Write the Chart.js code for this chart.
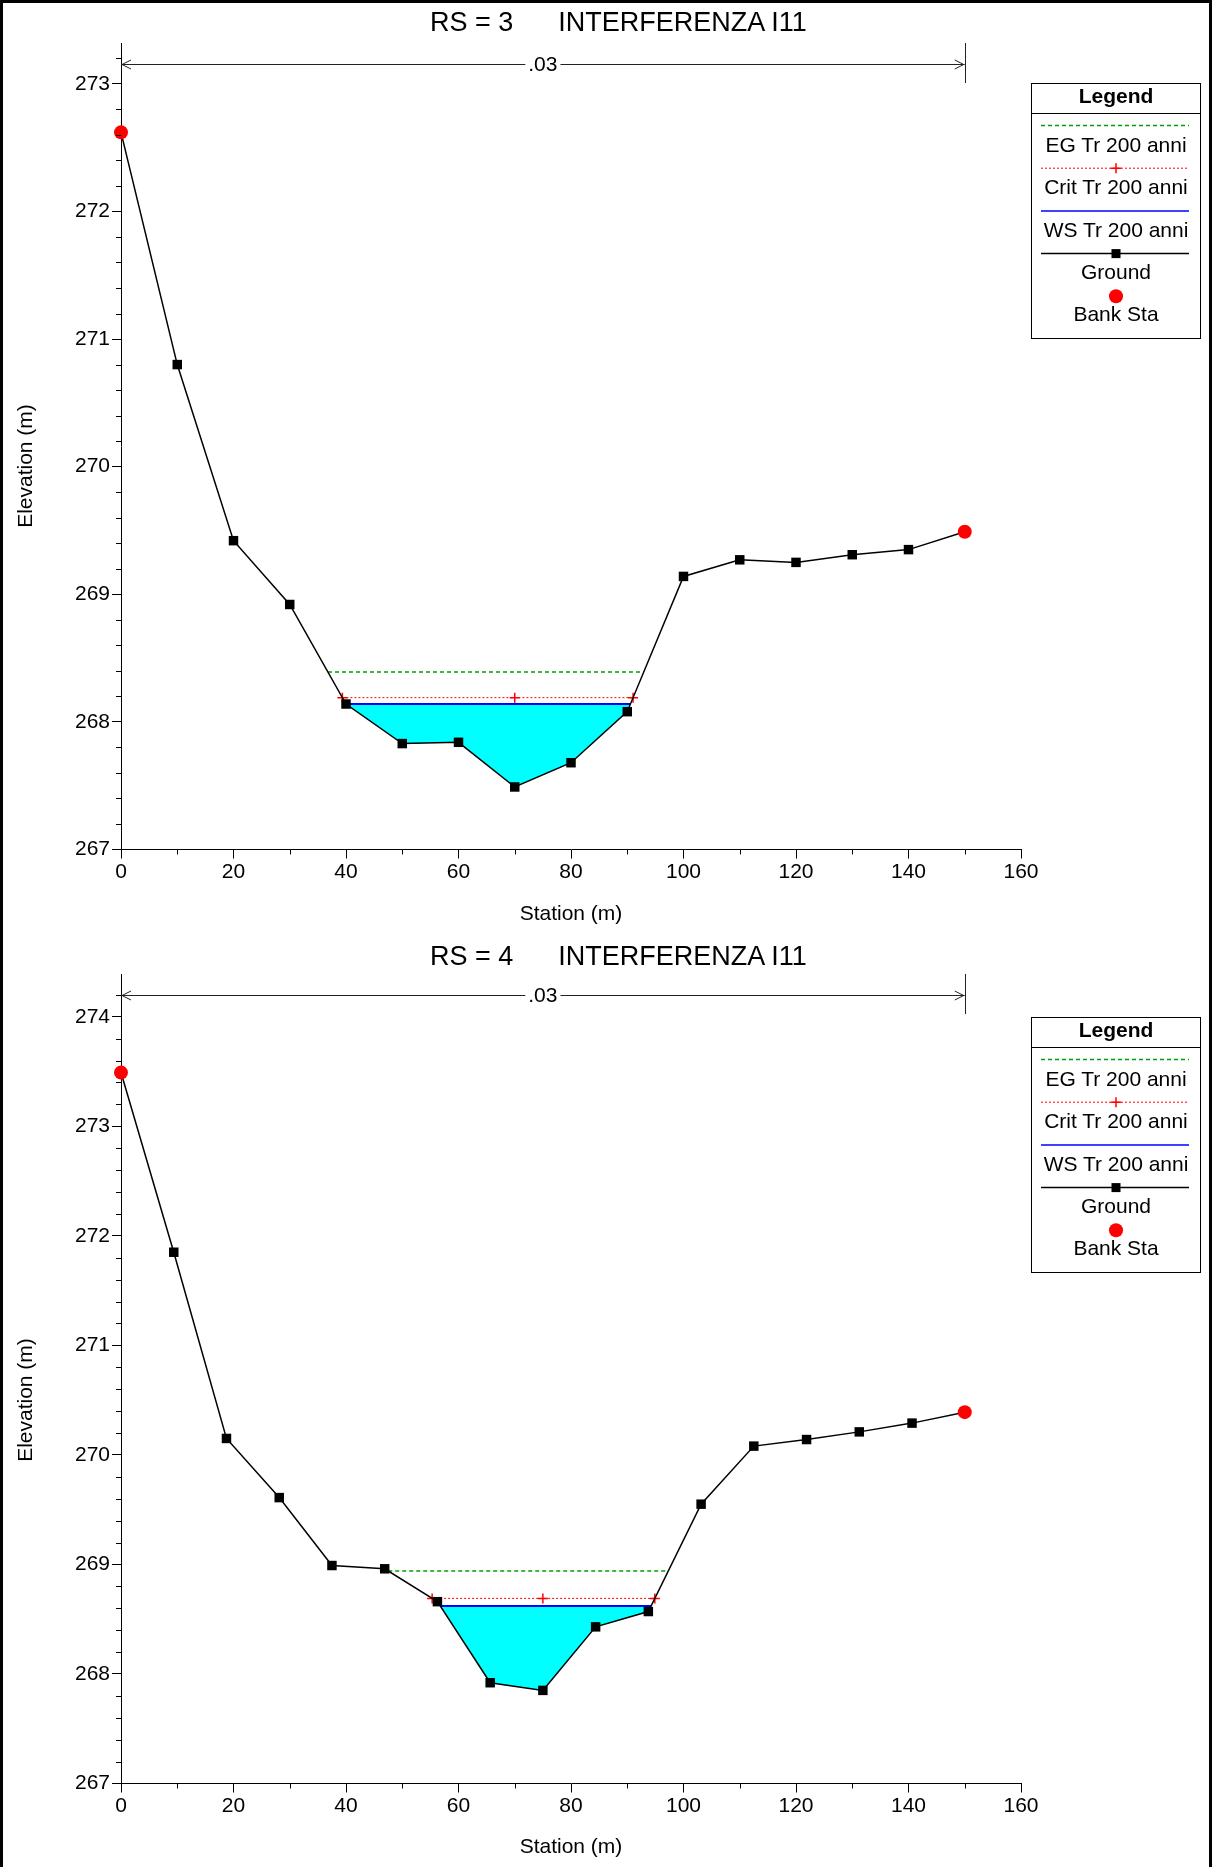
<!DOCTYPE html>
<html lang="it">
<head>
<meta charset="UTF-8">
<title>RS 3 / RS 4 - INTERFERENZA I11</title>
<style>
    html, body { margin: 0; padding: 0; background: #fff; }
    body {
        width: 1212px;
        height: 1867px;
        position: relative;
        overflow: hidden;
        font-family: "Liberation Sans", Arial, sans-serif;
        color: #000;
    }
    .frame {
        position: absolute;
        left: 0; top: 0;
        width: 1206px; height: 1867px;
        border: 3px solid #000;
        border-bottom: none;
        pointer-events: none;
        z-index: 5;
    }
    .panel { position: absolute; left: 0; width: 1212px; }
    .panel canvas { position: absolute; left: 0; top: 0; }
    .title {
        position: absolute;
        left: 430px; top: 7px;
        font-size: 27px;
        line-height: 31px;
        white-space: pre;
    }
    .ytitle {
        position: absolute;
        left: -125px; top: 453px;
        width: 300px; height: 26px;
        line-height: 26px;
        font-size: 21px;
        text-align: center;
        transform: rotate(-90deg);
    }
    .legend { position: absolute; left: 1031px; top: 83px; }
    .legend text { font-family: "Liberation Sans", Arial, sans-serif; }
</style>
<script src="https://cdn.jsdelivr.net/npm/chart.js"></script>
</head>
<body>

<div class="frame"></div>

<div class="panel" id="panel1" style="top:0; height:934px;">
    <canvas id="chart1" width="1212" height="934"></canvas>
    <div class="title"></div>
    <div class="ytitle">Elevation (m)</div>
    <div class="legend"></div>
</div>

<div class="panel" id="panel2" style="top:934px; height:933px;">
    <canvas id="chart2" width="1212" height="933"></canvas>
    <div class="title"></div>
    <div class="ytitle">Elevation (m)</div>
    <div class="legend"></div>
</div>

<script>
    // ---- data read from the two cross sections ----
    const xTicks = [0, 20, 40, 60, 80, 100, 120, 140, 160];
    const xRange = [0, 160];

    // RS = 3
    const rs3Station = [0, 10, 20, 30, 40, 50, 60, 70, 80, 90, 100, 110, 120, 130, 140, 150];
    const rs3Ground  = [272.62, 270.80, 269.42, 268.92, 268.14, 267.83, 267.84, 267.49, 267.68, 268.08, 269.14, 269.27, 269.25, 269.31, 269.35, 269.49];
    const rs3Bank    = [0, 150];
    const rs3Levels  = [268.39, 268.19, 268.14];   // EG, Crit, WS
    const rs3YTicks  = [267, 268, 269, 270, 271, 272, 273];
    const rs3YRange  = [267, 273.32];

    // RS = 4
    const rs4Station = [0, 9.38, 18.75, 28.13, 37.5, 46.88, 56.25, 65.63, 75, 84.38, 93.75, 103.13, 112.5, 121.88, 131.25, 140.63, 150];
    const rs4Ground  = [273.49, 271.85, 270.15, 269.61, 268.99, 268.96, 268.66, 267.92, 267.85, 268.43, 268.57, 269.55, 270.08, 270.14, 270.21, 270.29, 270.39];
    const rs4Bank    = [0, 150];
    const rs4Levels  = [268.94, 268.69, 268.62];   // EG, Crit, WS
    const rs4YTicks  = [267, 268, 269, 270, 271, 272, 273, 274];
    const rs4YRange  = [267, 274.39];

    const sectionNames = ['RS = 3', 'RS = 4'];
    const reachName = 'INTERFERENZA I11';
    const manningN = ['.03', '.03'];
    const legendLabels = ['EG Tr 200 anni', 'Crit Tr 200 anni', 'WS Tr 200 anni', 'Ground', 'Bank Sta'];

    const FONT = '"Liberation Sans", Arial, sans-serif';
    const STYLE = {
        eg:     { color: '#00a000', width: 1.5, dash: [4, 3] },
        crit:   { color: '#ff0000', width: 1, dash: [2, 2] },
        ws:     { color: '#0000ff', width: 2 },
        ground: { color: '#000000', width: 1.5 },
        bank:   { color: '#ff0000' },
        water:  '#00ffff'
    };

    // where a water level meets the ground on both sides of the thalweg
    function edges(st, el, level) {
        const k = el.indexOf(Math.min(...el));
        let i = k;
        while (i > 0 && el[i - 1] < level) i--;
        const xl = st[i - 1] + (el[i - 1] - level) / (el[i - 1] - el[i]) * (st[i] - st[i - 1]);
        let j = k;
        while (j < el.length - 1 && el[j + 1] < level) j++;
        const xr = st[j] + (level - el[j]) / (el[j + 1] - el[j]) * (st[j + 1] - st[j]);
        return { k, i, j, xl, xr };
    }

    // minor tick marks on both axes
    const minorTicks = {
        id: 'minorTicks',
        afterDraw(chart, args, opts) {
            const { ctx, chartArea: a, scales: { x, y } } = chart;
            ctx.save();
            ctx.strokeStyle = '#000';
            ctx.lineWidth = 1;
            ctx.beginPath();
            for (let n = 0; x.min + n * opts.xStep <= x.max + 1e-9; n++) {
                const v = x.min + n * opts.xStep;
                if (opts.xMajor.includes(v)) continue;
                const px = Math.round(x.getPixelForValue(v)) + 0.5;
                ctx.moveTo(px, a.bottom);
                ctx.lineTo(px, a.bottom + 5);
            }
            for (let n = 1; y.min + n * opts.yStep <= y.max + 1e-9; n++) {
                const v = y.min + n * opts.yStep;
                if (Math.abs(v - Math.round(v)) < 1e-6) continue;
                const py = Math.round(y.getPixelForValue(v)) + 0.5;
                ctx.moveTo(a.left, py);
                ctx.lineTo(a.left - 5, py);
            }
            ctx.stroke();
            ctx.restore();
        }
    };

    // bank station bar with Manning's n
    const nValueBar = {
        id: 'nValueBar',
        afterDatasetsDraw(chart, args, opts) {
            const { ctx, chartArea: a, scales: { x } } = chart;
            const x0 = x.getPixelForValue(opts.left);
            const x1 = x.getPixelForValue(opts.right);
            const yy = Math.round(a.top + 21) + 0.5;
            const mid = (x0 + x1) / 2;
            ctx.save();
            ctx.font = '21px ' + FONT;
            const tw = ctx.measureText(opts.label).width;
            ctx.strokeStyle = '#222';
            ctx.lineWidth = 1;
            ctx.beginPath();
            ctx.moveTo(x0, yy); ctx.lineTo(mid - tw / 2 - 3, yy);
            ctx.moveTo(mid + tw / 2 + 3, yy); ctx.lineTo(x1, yy);
            // open arrow heads
            ctx.moveTo(x0 + 10, yy - 4.5); ctx.lineTo(x0 + 1, yy); ctx.lineTo(x0 + 10, yy + 4.5);
            ctx.moveTo(x1 - 10, yy - 4.5); ctx.lineTo(x1 - 1, yy); ctx.lineTo(x1 - 10, yy + 4.5);
            // bank station verticals
            ctx.moveTo(Math.round(x1) + 0.5, a.top);
            ctx.lineTo(Math.round(x1) + 0.5, a.top + 40);
            ctx.stroke();
            ctx.fillStyle = '#000';
            ctx.textAlign = 'center';
            ctx.textBaseline = 'middle';
            ctx.fillText(opts.label, mid, yy + 1);
            ctx.restore();
        }
    };

    function buildLegend(el) {
        const W = 170, H = 256;
        let s = `<svg xmlns="http://www.w3.org/2000/svg" width="${W}" height="${H}">`;
        s += `<rect x="0.5" y="0.5" width="${W - 1}" height="${H - 1}" fill="#fff" stroke="#000"/>`;
        s += `<text x="${W / 2}" y="12" font-size="21" font-weight="bold" text-anchor="middle" dominant-baseline="central">Legend</text>`;
        s += `<line x1="0" y1="30.5" x2="${W}" y2="30.5" stroke="#000"/>`;
        const keys = ['eg', 'crit', 'ws', 'ground', 'bank'];
        keys.forEach((key, i) => {
            const ly = 42.5 + 42.7 * i;
            const ty = 61.5 + 42.3 * i;
            const st = STYLE[key];
            if (key !== 'bank') {
                const dash = st.dash ? ` stroke-dasharray="${st.dash.join(' ')}"` : '';
                s += `<line x1="10" y1="${ly}" x2="158" y2="${ly}" stroke="${st.color}" stroke-width="${Math.min(st.width, 1.5)}"${dash}/>`;
            }
            if (key === 'crit') {
                s += `<path d="M${W / 2 - 5} ${ly}H${W / 2 + 5}M${W / 2} ${ly - 5}V${ly + 5}" stroke="${st.color}" stroke-width="1.5"/>`;
            }
            if (key === 'ground') {
                s += `<rect x="${W / 2 - 4.5}" y="${ly - 4.5}" width="9" height="9" fill="#000"/>`;
            }
            if (key === 'bank') {
                s += `<circle cx="${W / 2}" cy="${ly}" r="7" fill="${st.color}"/>`;
            }
            s += `<text x="${W / 2}" y="${ty}" font-size="21" text-anchor="middle" dominant-baseline="central">${legendLabels[i]}</text>`;
        });
        s += '</svg>';
        el.innerHTML = s;
    }

    function makeSection(canvasId, panelId, idx, st, el, bank, levels, yTicks, yRange, padTop) {
        const panel = document.getElementById(panelId);
        panel.querySelector('.title').textContent = sectionNames[idx] + '      ' + reachName;
        buildLegend(panel.querySelector('.legend'));

        const [eg, crit, ws] = levels;
        const groundPts = st.map((x, i) => ({ x: x, y: el[i] }));
        const bankPts = bank.map(b => ({ x: b, y: el[st.indexOf(b)] }));

        const eW = edges(st, el, ws);
        const water = [{ x: eW.xl, y: ws }];
        for (let n = eW.i; n <= eW.j; n++) water.push({ x: st[n], y: el[n] });
        water.push({ x: eW.xr, y: ws });

        const eC = edges(st, el, crit);
        const eE = edges(st, el, eg);

        const canvas = document.getElementById(canvasId);
        const H = canvas.height;
        const tickFont = { size: 21, family: FONT };

        new Chart(canvas.getContext('2d'), {
            type: 'line',
            data: {
                datasets: [
                    {
                        label: legendLabels[4], data: bankPts, showLine: false,
                        pointStyle: 'circle', pointRadius: 7, pointBackgroundColor: STYLE.bank.color,
                        pointBorderWidth: 0, clip: false
                    },
                    {
                        label: legendLabels[3], data: groundPts,
                        borderColor: STYLE.ground.color, borderWidth: STYLE.ground.width,
                        pointStyle: 'rect', pointRadius: 6.7, pointBackgroundColor: '#000',
                        pointBorderWidth: 0, clip: false
                    },
                    {
                        label: legendLabels[2], data: [{ x: eW.xl, y: ws }, { x: eW.xr, y: ws }],
                        borderColor: STYLE.ws.color, borderWidth: STYLE.ws.width, pointRadius: 0
                    },
                    {
                        label: legendLabels[1],
                        data: [{ x: eC.xl, y: crit }, { x: st[eC.k], y: crit }, { x: eC.xr, y: crit }],
                        borderColor: STYLE.crit.color, borderWidth: STYLE.crit.width, borderDash: STYLE.crit.dash,
                        pointStyle: 'cross', pointRadius: 5, pointBorderColor: STYLE.crit.color,
                        pointBorderWidth: 1.5, clip: false
                    },
                    {
                        label: legendLabels[0], data: [{ x: eE.xl, y: eg }, { x: eE.xr, y: eg }],
                        borderColor: STYLE.eg.color, borderWidth: STYLE.eg.width, borderDash: STYLE.eg.dash,
                        pointRadius: 0
                    },
                    {
                        label: 'water', data: water, fill: 'shape',
                        backgroundColor: STYLE.water, borderColor: 'transparent', borderWidth: 0,
                        pointRadius: 0
                    }
                ]
            },
            options: {
                responsive: false,
                animation: false,
                devicePixelRatio: 1,
                events: [],
                layout: { padding: { top: padTop, right: 191, bottom: 0, left: 0 } },
                elements: { line: { tension: 0 } },
                scales: {
                    x: {
                        type: 'linear', min: xRange[0], max: xRange[1],
                        afterBuildTicks: s => { s.ticks = xTicks.map(v => ({ value: v })); },
                        afterFit: s => { s.height = H - 849.5; },
                        grid: { drawOnChartArea: false, drawTicks: true, tickLength: 9, tickColor: '#000' },
                        border: { display: true, color: '#000', width: 1 },
                        ticks: { color: '#000', font: tickFont, padding: 1, maxRotation: 0, autoSkip: false },
                        title: {
                            display: true, text: 'Station (m)', color: '#000', font: tickFont,
                            padding: { top: 0, bottom: 7 }
                        }
                    },
                    y: {
                        type: 'linear', min: yRange[0], max: yRange[1],
                        afterBuildTicks: s => { s.ticks = yTicks.map(v => ({ value: v })); },
                        afterFit: s => { s.width = 121; },
                        grid: { drawOnChartArea: false, drawTicks: true, tickLength: 9, tickColor: '#000' },
                        border: { display: true, color: '#000', width: 1 },
                        ticks: { color: '#000', font: tickFont, padding: 2 }
                    }
                },
                plugins: {
                    legend: { display: false },
                    tooltip: { enabled: false },
                    minorTicks: { xStep: 10, yStep: 0.2, xMajor: xTicks },
                    nValueBar: { left: bank[0], right: bank[1], label: manningN[idx] }
                }
            },
            plugins: [minorTicks, nValueBar]
        });
    }

    makeSection('chart1', 'panel1', 0, rs3Station, rs3Ground, rs3Bank, rs3Levels, rs3YTicks, rs3YRange, 43);
    makeSection('chart2', 'panel2', 1, rs4Station, rs4Ground, rs4Bank, rs4Levels, rs4YTicks, rs4YRange, 40);
</script>

</body>
</html>
